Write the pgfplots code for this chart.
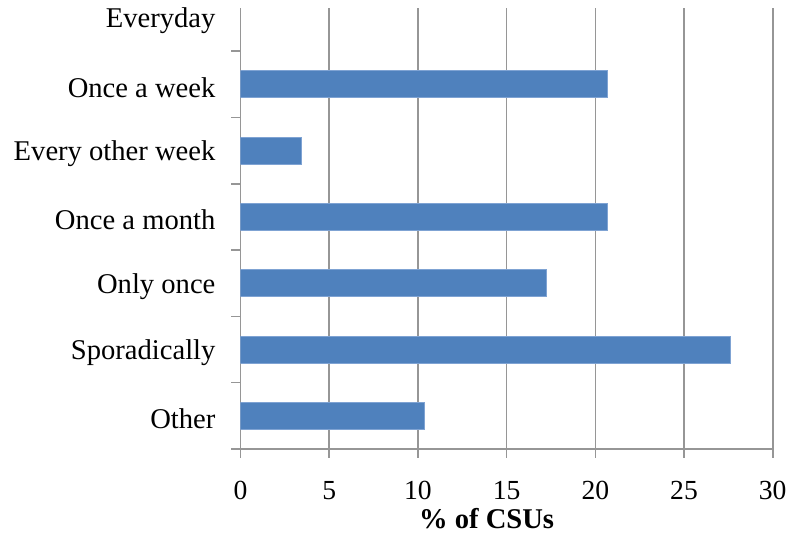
\documentclass[border=0pt]{standalone}
\usepackage{pgfplots}
\pgfplotsset{compat=1.18}
\usepackage{fontspec}
\setmainfont{Liberation Serif}
\definecolor{barblue}{HTML}{4F81BD}
\definecolor{baredge}{HTML}{7FA3D3}
\definecolor{gridgray}{HTML}{969696}
\begin{document}
\begin{tikzpicture}
\begin{axis}[
  at={(0,0)}, anchor=south west,
  scale only axis,
  width=266.1pt, height=220.5pt,
  xbar, bar width=0.405,
  xmin=0, xmax=30,
  ymin=-0.5, ymax=6.15,
  xtick={0,5,...,30},
  ytick={-0.5,0.5,1.5,2.5,3.5,4.5,5.5},
  yticklabels={},
  extra y ticks={0,1,2,3,4,5,6},
  extra y tick labels={Other,Sporadically,Only once,Once a month,Every other week,Once a week,Everyday},
  extra y tick style={major tick length=0pt, yticklabel style={font=\fontsize{14.3}{16}\selectfont, xshift=-9pt, yshift=-1.5pt}},
  axis x line*=bottom,
  axis y line*=left,
  axis line style={gridgray, line width=0.8pt, -},
  tick align=outside,
  major tick length=4.5pt,
  tick style={draw=gridgray, line width=0.8pt},
  xmajorgrids,
  major grid style={gridgray, line width=0.8pt},
  /pgf/number format/assume math mode=true,
  tick label style={font=\fontsize{13.8}{16}\selectfont},
  xticklabel style={yshift=-8pt},
  xlabel={\textbf{\% of CSUs}},
  xlabel style={font=\fontsize{14.3}{16}\selectfont, at={(axis description cs:0.5,0)}, anchor=north, inner sep=0pt, yshift=-29.5pt, xshift=-10pt},
]
\addplot[fill=barblue, draw=baredge, line width=0.4pt] coordinates {
  (10.34,0) (27.59,1) (17.24,2) (20.69,3) (3.45,4) (20.69,5)
};
\end{axis}
\pgfresetboundingbox
\path[use as bounding box] (-120.25pt,-43pt) rectangle (272.75pt,224.5pt);
\end{tikzpicture}
\end{document}
